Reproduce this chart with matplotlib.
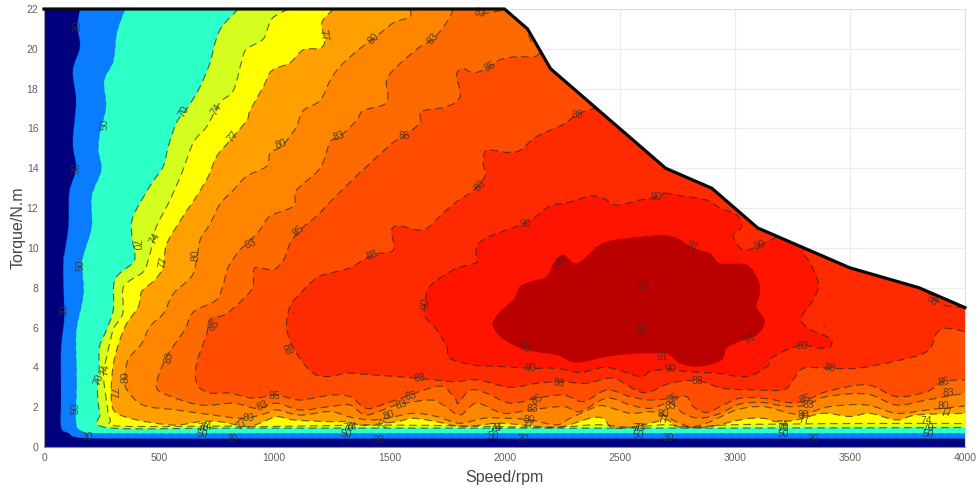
"""
Efficiency map of a motor, speed against torque.
Contours are read off the picture as (rpm, N.m) pairs, each one is the
boundary of the region where efficiency is above that level.
"""

import matplotlib
matplotlib.use('Agg')
import matplotlib.pyplot as plt
from matplotlib.patches import PathPatch, Polygon
from matplotlib.path import Path

plt.rcParams['font.family'] = ['Liberation Sans', 'DejaVu Sans']

x_ticks = [0, 500, 1000, 1500, 2000, 2500, 3000, 3500, 4000]
y_ticks = [0, 2, 4, 6, 8, 10, 12, 14, 16, 18, 20, 22]

# torque limit
limit_speed = [0, 2000, 2100, 2200, 2700, 2900, 3100, 3500, 3800, 4000]
limit_torque = [22, 22, 21, 19, 14, 13, 11, 9, 8, 7]

level_30 = [(156, 22), (145, 21.1), (156, 20.1), (125, 18.9), (139, 17.4), (125, 15.3), (139, 14.0), (110, 12.8),
            (106, 11.1), (91, 9.9), (84, 9.4), (84, 8.2), (88, 6.5), (74, 4.9), (74, 2.4), (74, 1.0), (106, 0.7),
            (171, 0.45), (500, 0.42), (1000, 0.42), (2000, 0.42), (3000, 0.42), (4000, 0.42)]

level_50 = [(352, 22), (316, 20.8), (301, 19.4), (261, 18.4), (269, 17.1), (243, 15.8), (236, 14.9), (248, 13.9),
            (207, 12.6), (207, 11.1), (178, 9.9), (164, 9.2), (171, 7.7), (142, 6.0), (139, 4.9), (142, 3.2),
            (139, 1.2), (171, 0.77), (243, 0.68), (1000, 0.68), (2000, 0.68), (3000, 0.68), (4000, 0.68)]

level_70 = [(844, 22), (772, 21.1), (743, 20.3), (721, 19.3), (678, 18.1), (627, 17.1), (576, 16.3), (540, 15.1),
            (518, 14.1), (460, 13.1), (388, 11.6), (381, 10.7), (395, 9.6), (381, 9.2), (308, 8.4), (301, 6.9),
            (272, 5.9), (240, 5.0), (240, 4.0), (232, 2.9), (243, 1.7), (279, 0.97), (800, 0.95), (1500, 0.95),
            (2000, 0.95), (3000, 0.95), (4000, 0.98)]

level_74 = [(1061, 22), (989, 21.5), (953, 20.5), (880, 20.0), (859, 19.4), (822, 17.9), (764, 17.3), (707, 16.1),
            (649, 15.3), (598, 13.75), (547, 12.4), (489, 11.1), (475, 10.4), (453, 9.4), (431, 8.8), (366, 8.3),
            (342, 7.9), (342, 6.7), (301, 5.9), (272, 4.5), (258, 3.7), (269, 2.5), (287, 1.4), (330, 1.05),
            (800, 1.05), (900, 1.02), (1500, 1.1), (2183, 1.0), (2400, 1.12), (2545, 1.0), (2700, 1.12),
            (2820, 1.0), (3000, 1.12), (3500, 1.18), (4000, 1.18)]

level_77 = [(1257, 22), (1206, 21.3), (1220, 20.45), (1199, 20.03), (1126, 19.95), (1068, 19.3), (989, 18.9),
            (953, 18.1), (895, 16.9), (880, 16.4), (808, 15.4), (750, 14.6), (714, 13.6), (663, 12.6), (605, 11.6),
            (533, 10.2), (518, 9.06), (482, 8.4), (424, 7.8), (410, 7.05), (352, 6.05), (308, 4.54), (294, 3.37),
            (294, 2.2), (316, 1.7), (403, 1.36), (562, 1.1), (678, 1.27), (764, 1.27), (880, 1.02), (938, 1.2),
            (1011, 1.52), (1083, 1.36), (1242, 1.27), (1314, 1.27), (1387, 1.1), (1532, 1.27), (1604, 1.44),
            (1705, 1.27), (1821, 1.02), (1966, 1.19), (2082, 1.1), (2183, 0.98), (2255, 1.02), (2371, 1.44),
            (2429, 1.44), (2465, 0.98), (2545, 0.98), (2632, 1.19), (2704, 1.36), (2748, 1.02), (2820, 0.98),
            (2893, 1.02), (3037, 1.39), (3124, 1.44), (3182, 1.27), (3269, 1.36), (3385, 1.69), (3500, 1.53),
            (3587, 1.69), (3703, 1.36), (3790, 1.61), (4000, 1.69)]

level_80 = [(1589, 22), (1589, 21.6), (1517, 21.3), (1430, 20.5), (1365, 19.95), (1285, 19.1), (1242, 18.4),
            (1199, 17.4), (1126, 16.9), (1097, 16.1), (1068, 15.6), (1032, 15.1), (982, 14.75), (967, 14.1),
            (880, 13.6), (822, 12.9), (764, 12.2), (721, 11.2), (678, 10.4), (663, 9.4), (641, 8.56), (562, 7.7),
            (518, 6.7), (460, 6.05), (424, 5.2), (366, 4.4), (352, 3.5), (359, 2.9), (431, 2.1), (576, 1.86),
            (736, 1.6), (866, 1.44), (967, 1.7), (1011, 1.86), (1112, 1.6), (1242, 1.78), (1329, 1.5), (1416, 1.36),
            (1488, 1.44), (1604, 1.69), (1705, 1.53), (1807, 1.19), (1908, 1.44), (2024, 1.44), (2111, 1.36),
            (2226, 1.11), (2284, 1.44), (2400, 2.03), (2444, 2.03), (2545, 1.69), (2632, 1.78), (2690, 1.6),
            (2762, 1.19), (2820, 1.02), (2893, 1.27), (3008, 1.86), (3124, 2.03), (3240, 1.69), (3312, 1.69),
            (3414, 2.03), (3573, 2.11), (3703, 1.69), (3834, 1.86), (4000, 2.06)]

level_83 = [(1778, 22), (1756, 21.45), (1691, 20.5), (1633, 20.1), (1532, 19.1), (1488, 18.4), (1488, 17.3),
            (1387, 16.9), (1358, 16.4), (1285, 15.6), (1242, 15.3), (1199, 14.0), (1097, 12.9), (1083, 12.1),
            (982, 11.6), (938, 10.9), (880, 10.2), (851, 9.9), (801, 9.06), (779, 8.2), (750, 7.4), (663, 6.9),
            (634, 6.55), (612, 5.9), (533, 4.54), (489, 3.2), (518, 2.7), (678, 2.11), (822, 2.2), (924, 1.94),
            (1011, 2.2), (1112, 1.86), (1242, 2.03), (1329, 2.11), (1401, 1.61), (1532, 2.11), (1676, 2.36),
            (1734, 2.11), (1807, 1.61), (1879, 2.2), (1995, 1.69), (2111, 1.86), (2255, 2.03), (2328, 1.78),
            (2444, 2.45), (2545, 2.11), (2632, 1.94), (2719, 2.2), (2777, 1.69), (2849, 1.44), (2936, 1.69),
            (3023, 2.16), (3124, 2.23), (3226, 2.03), (3312, 2.11), (3399, 2.53), (3573, 2.66), (3703, 2.11),
            (3834, 2.36), (4000, 2.7)]

level_85 = [(2154, 19.8), (2128, 19.6), (2053, 19.6), (1980, 19.45), (1922, 19.0), (1865, 18.8), (1821, 19.0),
            (1792, 18.7), (1807, 17.6), (1749, 17.1), (1640, 16.85), (1633, 16.3), (1575, 15.7), (1517, 15.3),
            (1430, 14.4), (1329, 13.3), (1242, 12.3), (1184, 11.6), (1112, 10.9), (1068, 10.2), (1040, 9.4),
            (996, 8.9), (916, 9.0), (909, 8.2), (888, 7.7), (793, 6.7), (721, 6.4), (707, 5.7), (663, 4.2),
            (663, 3.2), (714, 2.73), (808, 2.7), (909, 2.45), (1011, 2.6), (1112, 2.36), (1242, 2.6), (1329, 2.53),
            (1401, 1.94), (1488, 2.2), (1589, 2.61), (1676, 2.95), (1734, 3.03), (1785, 2.45), (1799, 2.2),
            (1850, 2.86), (1922, 2.7), (2024, 2.2), (2140, 2.45), (2255, 2.61), (2342, 2.28), (2444, 2.86),
            (2545, 2.53), (2632, 2.36), (2733, 2.45), (2791, 2.53), (2820, 2.03), (2878, 1.73), (2950, 2.11),
            (3023, 2.45), (3124, 2.45), (3240, 2.23), (3312, 2.36), (3399, 2.78), (3573, 3.12), (3703, 2.53),
            (3834, 2.78), (3906, 3.28), (4000, 3.37)]

level_88 = [(2400, 17.1), (2386, 17.0), (2313, 16.7), (2255, 16.2), (2140, 15.6), (2067, 14.9), (2009, 14.8),
            (1922, 14.9), (1908, 14.25), (1915, 13.6), (1865, 12.9), (1778, 12.2), (1720, 11.6), (1647, 10.9),
            (1546, 11.1), (1510, 10.9), (1517, 9.9), (1445, 9.7), (1387, 9.4), (1329, 9.0), (1242, 8.73),
            (1184, 8.5), (1112, 7.7), (1068, 7.05), (1054, 5.9), (1097, 4.7), (1170, 3.7), (1242, 3.54),
            (1314, 3.7), (1430, 3.62), (1626, 3.45), (1778, 3.28), (1879, 3.37), (2024, 3.0), (2140, 3.2),
            (2241, 3.28), (2357, 3.2), (2473, 3.45), (2603, 2.73), (2719, 3.2), (2835, 3.33), (2950, 2.95),
            (3081, 2.87), (3211, 2.87), (3254, 3.37), (3298, 3.95), (3414, 3.95), (3530, 3.95), (3689, 4.29),
            (3834, 4.79), (3877, 5.71), (3920, 5.96), (4000, 5.8)]

level_90 = [(2697, 12.75), (2777, 12.6), (2878, 12.4), (2936, 12.0), (3008, 11.66), (3030, 11.07), (2994, 10.6),
            (3023, 10.0), (3066, 9.93), (3175, 10.5), (3211, 10.7), (3327, 10.5), (3298, 9.8), (3327, 9.23),
            (3363, 8.2), (3341, 7.4), (3298, 6.7), (3291, 6.3), (3327, 5.9), (3414, 5.46), (3414, 5.04), (3370, 4.96),
            (3283, 5.09), (3168, 4.54), (3139, 4.04), (3052, 3.54), (2922, 3.7), (2791, 3.79), (2719, 3.9),
            (2632, 3.79), (2588, 3.54), (2444, 4.0), (2328, 3.74), (2226, 3.95), (2111, 3.95), (1995, 4.04),
            (1865, 4.12), (1763, 4.46), (1749, 5.04), (1705, 5.9), (1655, 6.55), (1655, 7.2), (1676, 8.06),
            (1778, 8.9), (1872, 9.23), (1879, 9.4), (1879, 10.07), (1922, 10.5), (2009, 10.9), (2082, 11.2),
            (2140, 11.6), (2197, 12.1), (2284, 12.3), (2371, 12.6), (2429, 12.5), (2487, 12.15), (2588, 12.4),
            (2675, 12.6)]

level_91 = [(1951, 6.3), (1980, 6.8), (2038, 7.4), (2067, 8.06), (2111, 8.3), (2183, 8.56), (2212, 9.23), (2255, 9.65),
            (2313, 9.23), (2386, 9.9), (2400, 10.07), (2473, 10.4), (2675, 10.65), (2690, 10.65), (2748, 10.5),
            (2820, 10.0), (2893, 9.73), (2936, 9.23), (3052, 9.15), (3102, 8.4), (3110, 7.7), (3095, 7.05),
            (3131, 6.3), (3095, 5.63), (3023, 5.3), (2965, 4.96), (2943, 4.37), (2849, 4.04), (2762, 4.2),
            (2704, 4.7), (2632, 4.7), (2574, 4.7), (2444, 4.54), (2313, 4.24), (2226, 4.62), (2125, 4.8),
            (2053, 5.04), (1980, 5.55), (1951, 6.05)]

# short bits of contour along the torque limit
stray_88 = [(3822, 7.9), (3905, 7.15), (4000, 7.0)]
stray_83_top = [(1900, 21.75), (2002, 21.95)]
stray_83_edge = [(2104, 20.7), (2125, 20.1)]

# value, rpm, N.m, rotation
contour_labels = [
    ('30', 145, 21.15, 90), ('30', 142, 14.0, 90), ('30', 91, 6.85, 90), ('30', 188, 0.5, 0), ('30', 820, 0.4, 0),
    ('30', 1452, 0.35, 0), ('30', 2082, 0.4, 0), ('30', 2712, 0.43, 0), ('30', 3341, 0.4, 0),
    ('50', 261, 16.2, 90), ('50', 161, 9.15, 90), ('50', 139, 1.94, 90), ('50', 688, 0.64, 0), ('50', 1314, 0.64, 0),
    ('50', 1951, 0.57, 0), ('50', 2581, 0.6, 0), ('50', 3211, 0.64, 0), ('50', 3841, 0.64, 0),
    ('70', 608, 16.85, 60), ('70', 395, 10.15, 270), ('70', 236, 3.37, 70), ('70', 692, 0.94, 0), ('70', 1322, 0.94, 0),
    ('70', 1959, 0.94, 0), ('70', 2581, 0.94, 0), ('70', 3211, 0.94, 0), ('70', 3841, 0.97, 0),
    ('74', 747, 16.97, 55), ('74', 479, 10.45, 60), ('74', 269, 3.87, 80), ('74', 704, 0.99, 0), ('74', 1332, 0.99, 0),
    ('74', 1962, 0.97, 0), ('74', 2588, 0.97, 0), ('74', 3208, 1.1, 0), ('74', 3831, 1.32, 0),
    ('77', 818, 15.6, 50), ('77', 1213, 20.7, 280), ('77', 518, 9.26, 75), ('77', 297, 2.7, 270), ('77', 859, 1.16, 40),
    ('77', 1477, 1.19, 80), ('77', 2103, 1.1, 0), ('77', 2690, 1.36, 0), ('77', 3301, 1.36, 0), ('77', 3920, 1.69, 0),
    ('80', 1430, 20.5, 45), ('80', 1029, 15.2, 20), ('80', 659, 9.65, 90), ('80', 355, 3.53, 90), ('80', 888, 1.47, 0),
    ('80', 1500, 1.58, 20), ('80', 2106, 1.36, 0), ('80', 2690, 1.64, 0), ('80', 3298, 1.61, 0), ('80', 3906, 2.08, 0),
    ('83', 1691, 20.5, 50), ('83', 1893, 21.8, -10), ('83', 1283, 15.6, 20), ('83', 895, 10.2, 25), ('83', 544, 4.5, 75),
    ('83', 948, 2.06, 25), ('83', 1550, 2.14, 15), ('83', 2121, 1.89, 0), ('83', 2722, 2.06, 0), ('83', 3320, 2.11, 0),
    ('83', 3928, 2.73, 0),
    ('85', 1937, 19.1, 30), ('85', 1563, 15.6, 0), ('85', 1107, 10.87, 45), ('85', 736, 6.1, 50), ('85', 999, 2.56, 0),
    ('85', 1594, 2.58, 10), ('85', 2140, 2.41, 30), ('85', 2733, 2.45, 30), ('85', 3305, 2.41, 20), ('85', 3906, 3.25, 10),
    ('88', 2316, 16.7, 0), ('88', 1893, 13.1, 40), ('88', 1426, 9.65, 20), ('88', 1054, 4.9, 290), ('88', 1630, 3.48, 10),
    ('88', 2238, 3.23, -10), ('88', 2838, 3.33, 0), ('88', 3414, 3.95, -10), ('88', 3855, 7.35, -40),
    ('90', 2089, 11.2, 0), ('90', 2661, 12.54, 0), ('90', 1657, 7.2, 90), ('90', 2111, 3.95, 0), ('90', 2719, 3.92, 0),
    ('90', 3294, 5.08, 0), ('90', 3110, 10.15, 20),
    ('91', 2241, 9.26, 0), ('91', 2089, 4.96, -30), ('91', 2687, 4.54, 0), ('91', 3066, 5.46, 30), ('91', 2813, 10.1, -30),
    ('91', 2599, 8.14, 90), ('91', 2599, 5.96, 90),
]

# from the lowest level up, each one is painted over the last
open_levels = [level_30, level_50, level_70, level_74, level_77, level_80, level_83, level_85, level_88]
closed_levels = [level_90, level_91]
open_colors = ['#0a7cff', '#2dffc8', '#d4ff1e', '#ffff00', '#ffa000', '#ff8400', '#ff6a00', '#ff4c00', '#ff2a00']
closed_colors = ['#ff1400', '#bb0000']
base_color = '#00007f'

fig = plt.figure(figsize=(9.8, 4.94), dpi=100)
ax = fig.add_axes([44 / 980, (494 - 447) / 494, 921 / 980, 438 / 494])

limit_xy = list(zip(limit_speed, limit_torque)) + [(4000, 0), (0, 0)]
limit_patch = Polygon(limit_xy, closed=True, facecolor=base_color, edgecolor='none', zorder=2)
ax.add_patch(limit_patch)


def smooth_path(points, closed=False, extra=None):
    # round the drawn corners: Catmull-Rom handles through the read points
    n = len(points)
    verts = [points[0]]
    codes = [Path.MOVETO]
    segments = n if closed else n - 1
    for i in range(segments):
        if closed:
            p0, p1, p2, p3 = points[i - 1], points[i], points[(i + 1) % n], points[(i + 2) % n]
        else:
            p0, p1, p2, p3 = points[max(i - 1, 0)], points[i], points[i + 1], points[min(i + 2, n - 1)]
        c1 = (p1[0] + (p2[0] - p0[0]) / 6, p1[1] + (p2[1] - p0[1]) / 6)
        c2 = (p2[0] - (p3[0] - p1[0]) / 6, p2[1] - (p3[1] - p1[1]) / 6)
        verts += [c1, c2, p2]
        codes += [Path.CURVE4, Path.CURVE4, Path.CURVE4]
    if extra:
        for p in extra:
            verts.append(p)
            codes.append(Path.LINETO)
    return Path(verts, codes)


def add_level(points, color, closed):
    extra = None if closed else [(4000, 22), points[0]]
    patch = PathPatch(smooth_path(points, closed, extra), facecolor=color, edgecolor='none', zorder=3)
    ax.add_patch(patch)
    patch.set_clip_path(limit_patch)


def add_contour(points, closed, color='#222222', alpha=0.65, lw=0.85):
    patch = PathPatch(smooth_path(points, closed), fill=False, edgecolor=color, alpha=alpha, lw=lw,
                      ls=(0, (6.5, 4)), zorder=4)
    ax.add_patch(patch)
    patch.set_clip_path(limit_patch)


for points, color in zip(open_levels, open_colors):
    add_level(points, color, False)
for points, color in zip(closed_levels, closed_colors):
    add_level(points, color, True)

# 30 and 50 hardly show against the blue
add_contour(level_30, False, color='#00308f', alpha=0.45, lw=0.6)
add_contour(level_50, False, color='#005fa0', alpha=0.45, lw=0.6)
for points in open_levels[2:]:
    add_contour(points, False)
add_contour(level_90, True)
add_contour(stray_88, False)
add_contour(stray_83_top, False)
add_contour(stray_83_edge, False)

for text, x, y, rot in contour_labels:
    ax.text(x, y, text, rotation=rot, rotation_mode='anchor', ha='center', va='center',
            fontsize=7.5, color='#303030', alpha=0.8, zorder=5)

ax.plot(limit_speed, limit_torque, color='#0a0a0a', lw=2.3, zorder=6, clip_on=False, solid_joinstyle='round')

ax.set_xlim(0, 4000)
ax.set_ylim(0, 22)
ax.set_xticks(x_ticks)
ax.set_yticks(y_ticks)
ax.grid(True, color='#ececec', lw=0.8, zorder=0)
ax.set_axisbelow(True)
ax.tick_params(direction='in', length=0, labelsize=7.5, labelcolor='#606060', pad=4)
for spine in ax.spines.values():
    spine.set_color('#e0e0e0')
    spine.set_linewidth(0.8)
ax.spines['left'].set_color('#999999')
ax.spines['bottom'].set_color('#8888aa')

ax.set_xlabel('Speed/rpm', fontsize=11.5, color='#444444', labelpad=5)
ax.set_ylabel('Torque/N.m', fontsize=11.5, color='#444444', labelpad=1)

fig.savefig('out.png', dpi=100)
plt.close(fig)
